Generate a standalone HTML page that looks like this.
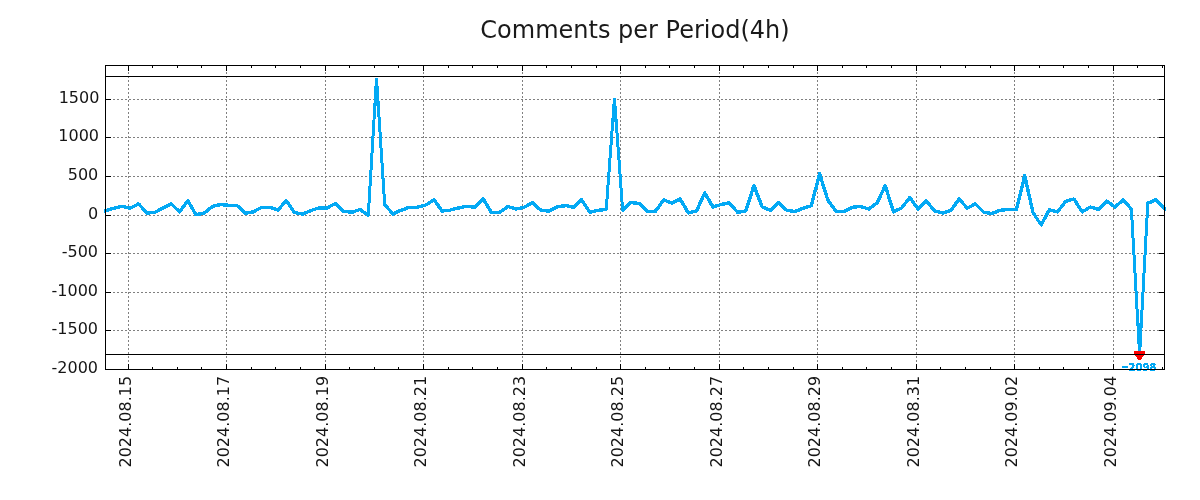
<!DOCTYPE html>
<html><head><meta charset="utf-8"><title>Comments per Period(4h)</title>
<style>
html,body{margin:0;padding:0;background:#fff;}
body{width:1200px;height:500px;overflow:hidden;}
svg{display:block;will-change:transform;font-family:"DejaVu Sans","Liberation Sans",sans-serif;}
.tl{font-size:16px;fill:#151515;}
</style></head><body>
<svg width="1200" height="500" viewBox="0 0 1200 500">
<rect x="0" y="0" width="1200" height="500" fill="#ffffff"/>

<g stroke="#808080" stroke-width="1" stroke-dasharray="2,2" shape-rendering="crispEdges" fill="none">
<line x1="128.5" y1="370" x2="128.5" y2="65"/>
<line x1="226.5" y1="370" x2="226.5" y2="65"/>
<line x1="325.5" y1="370" x2="325.5" y2="65"/>
<line x1="423.5" y1="370" x2="423.5" y2="65"/>
<line x1="522.5" y1="370" x2="522.5" y2="65"/>
<line x1="620.5" y1="370" x2="620.5" y2="65"/>
<line x1="719.5" y1="370" x2="719.5" y2="65"/>
<line x1="817.5" y1="370" x2="817.5" y2="65"/>
<line x1="916.5" y1="370" x2="916.5" y2="65"/>
<line x1="1014.5" y1="370" x2="1014.5" y2="65"/>
<line x1="1113.5" y1="370" x2="1113.5" y2="65"/>
<line x1="105" y1="99.5" x2="1165" y2="99.5"/>
<line x1="105" y1="137.5" x2="1165" y2="137.5"/>
<line x1="105" y1="176.5" x2="1165" y2="176.5"/>
<line x1="105" y1="215.5" x2="1165" y2="215.5"/>
<line x1="105" y1="253.5" x2="1165" y2="253.5"/>
<line x1="105" y1="292.5" x2="1165" y2="292.5"/>
<line x1="105" y1="330.5" x2="1165" y2="330.5"/>
</g>
<clipPath id="c"><rect x="104" y="65" width="1062" height="305"/></clipPath>
<filter id="th" filterUnits="userSpaceOnUse" x="0" y="0" width="1200" height="500" color-interpolation-filters="sRGB"><feComponentTransfer><feFuncA type="discrete" tableValues="0 1 1"/></feComponentTransfer></filter>
<filter id="th5" filterUnits="userSpaceOnUse" x="0" y="0" width="1200" height="500" color-interpolation-filters="sRGB"><feComponentTransfer><feFuncA type="discrete" tableValues="0 1"/></feComponentTransfer></filter>
<g clip-path="url(#c)" fill="none" stroke="#03a9f4" stroke-linejoin="round" stroke-linecap="round">
<g filter="url(#th)" stroke-width="3.1">
<polyline points="97.49,212.60 105.70,210.50 113.91,208.25 122.11,206.20 130.32,208.20 138.52,203.75 146.73,213.10 154.93,212.25 163.14,207.90 171.34,203.75 179.55,211.90 187.75,200.60 195.96,214.75 204.17,212.90 212.37,206.60 220.58,204.40 228.78,205.40 236.99,205.40 245.19,213.30 253.40,211.90 261.60,207.25 269.81,207.25 278.02,210.00 286.22,200.60 294.43,212.50 302.63,214.00 310.84,210.60 319.04,207.90 327.25,207.90 335.45,203.50 343.66,211.25 351.87,212.25 360.07,209.40 368.28,215.25"/>
<polyline points="384.69,204.40 392.89,214.00 401.10,210.25 409.30,207.25 417.51,207.00 425.71,205.00 433.92,199.75 442.13,211.00 450.33,210.00 458.54,207.90 466.74,206.25 474.95,207.25 483.15,198.75 491.36,212.50 499.56,212.50 507.77,206.50 515.98,209.10 524.18,207.20 532.39,202.75 540.59,210.00 548.80,211.25 557.00,206.90 565.21,205.60 573.41,207.25 581.62,199.75 589.82,212.25 598.03,210.25 606.24,209.40"/>
<polyline points="622.65,210.25 630.85,202.50 639.06,203.50 647.26,211.25 655.47,211.25 663.67,199.90 671.88,203.10 680.09,199.00 688.29,212.90 696.50,211.00 704.70,192.90 712.91,206.90 721.11,204.40 729.32,202.75 737.52,212.25 745.73,211.00 753.93,185.60 762.14,206.90 770.35,210.25 778.55,202.75 786.76,210.25 794.96,211.50 803.17,208.30 811.37,205.60 819.58,173.60 827.78,200.00 835.99,211.25 844.20,211.25 852.40,207.25 860.61,206.50 868.81,209.10 877.02,203.10 885.22,185.60 893.43,211.90 901.63,207.90 909.84,197.50 918.04,209.10 926.25,200.60 934.46,211.00 942.66,213.10 950.87,210.60 959.07,199.00 967.28,208.10 975.48,203.75 983.69,212.25 991.89,213.50 1000.10,210.25 1008.31,209.40 1016.51,209.40 1024.72,175.60 1032.92,212.50 1041.13,225.00 1049.33,209.75 1057.54,211.90 1065.74,201.25 1073.95,199.00 1082.15,211.90 1090.36,207.00 1098.57,209.40 1106.77,201.00 1114.98,207.00 1123.18,199.80 1131.39,209.10"/>
<polyline points="1147.80,203.25 1156.00,199.80 1164.21,208.20 1172.42,214.00"/>
</g><g filter="url(#th5)" stroke-width="3" stroke-linejoin="bevel">
<polyline points="368.28,215.25 376.48,78.00 384.69,204.40"/>
<polyline points="606.24,209.40 614.44,98.00 622.65,210.25"/>
<polyline points="1131.39,209.10 1139.59,354.50 1147.80,203.25"/>
</g></g>
<g fill="#ff0000" shape-rendering="crispEdges"><rect x="1134" y="351" width="11" height="4"/><rect x="1135" y="355" width="9" height="1"/><rect x="1136" y="356" width="7" height="1"/><rect x="1137" y="357" width="5" height="2"/><rect x="1138" y="359" width="3" height="1"/></g>
<g stroke="#000" stroke-width="1" shape-rendering="crispEdges">
<line x1="105" y1="76.5" x2="1165" y2="76.5"/>
<line x1="105" y1="354.5" x2="1165" y2="354.5"/>
</g>
<g stroke="#000" stroke-width="1" shape-rendering="crispEdges">
<line x1="128.5" y1="369" x2="128.5" y2="364"/>
<line x1="128.5" y1="66" x2="128.5" y2="71"/>
<line x1="226.5" y1="369" x2="226.5" y2="364"/>
<line x1="226.5" y1="66" x2="226.5" y2="71"/>
<line x1="325.5" y1="369" x2="325.5" y2="364"/>
<line x1="325.5" y1="66" x2="325.5" y2="71"/>
<line x1="423.5" y1="369" x2="423.5" y2="364"/>
<line x1="423.5" y1="66" x2="423.5" y2="71"/>
<line x1="522.5" y1="369" x2="522.5" y2="364"/>
<line x1="522.5" y1="66" x2="522.5" y2="71"/>
<line x1="620.5" y1="369" x2="620.5" y2="364"/>
<line x1="620.5" y1="66" x2="620.5" y2="71"/>
<line x1="719.5" y1="369" x2="719.5" y2="364"/>
<line x1="719.5" y1="66" x2="719.5" y2="71"/>
<line x1="817.5" y1="369" x2="817.5" y2="364"/>
<line x1="817.5" y1="66" x2="817.5" y2="71"/>
<line x1="916.5" y1="369" x2="916.5" y2="364"/>
<line x1="916.5" y1="66" x2="916.5" y2="71"/>
<line x1="1014.5" y1="369" x2="1014.5" y2="364"/>
<line x1="1014.5" y1="66" x2="1014.5" y2="71"/>
<line x1="1113.5" y1="369" x2="1113.5" y2="364"/>
<line x1="1113.5" y1="66" x2="1113.5" y2="71"/>
<line x1="152.5" y1="369" x2="152.5" y2="367"/>
<line x1="152.5" y1="66" x2="152.5" y2="68"/>
<line x1="177.5" y1="369" x2="177.5" y2="367"/>
<line x1="177.5" y1="66" x2="177.5" y2="68"/>
<line x1="201.5" y1="369" x2="201.5" y2="367"/>
<line x1="201.5" y1="66" x2="201.5" y2="68"/>
<line x1="251.5" y1="369" x2="251.5" y2="367"/>
<line x1="251.5" y1="66" x2="251.5" y2="68"/>
<line x1="275.5" y1="369" x2="275.5" y2="367"/>
<line x1="275.5" y1="66" x2="275.5" y2="68"/>
<line x1="300.5" y1="369" x2="300.5" y2="367"/>
<line x1="300.5" y1="66" x2="300.5" y2="68"/>
<line x1="349.5" y1="369" x2="349.5" y2="367"/>
<line x1="349.5" y1="66" x2="349.5" y2="68"/>
<line x1="374.5" y1="369" x2="374.5" y2="367"/>
<line x1="374.5" y1="66" x2="374.5" y2="68"/>
<line x1="398.5" y1="369" x2="398.5" y2="367"/>
<line x1="398.5" y1="66" x2="398.5" y2="68"/>
<line x1="448.5" y1="369" x2="448.5" y2="367"/>
<line x1="448.5" y1="66" x2="448.5" y2="68"/>
<line x1="472.5" y1="369" x2="472.5" y2="367"/>
<line x1="472.5" y1="66" x2="472.5" y2="68"/>
<line x1="497.5" y1="369" x2="497.5" y2="367"/>
<line x1="497.5" y1="66" x2="497.5" y2="68"/>
<line x1="546.5" y1="369" x2="546.5" y2="367"/>
<line x1="546.5" y1="66" x2="546.5" y2="68"/>
<line x1="571.5" y1="369" x2="571.5" y2="367"/>
<line x1="571.5" y1="66" x2="571.5" y2="68"/>
<line x1="596.5" y1="369" x2="596.5" y2="367"/>
<line x1="596.5" y1="66" x2="596.5" y2="68"/>
<line x1="645.5" y1="369" x2="645.5" y2="367"/>
<line x1="645.5" y1="66" x2="645.5" y2="68"/>
<line x1="669.5" y1="369" x2="669.5" y2="367"/>
<line x1="669.5" y1="66" x2="669.5" y2="68"/>
<line x1="694.5" y1="369" x2="694.5" y2="367"/>
<line x1="694.5" y1="66" x2="694.5" y2="68"/>
<line x1="743.5" y1="369" x2="743.5" y2="367"/>
<line x1="743.5" y1="66" x2="743.5" y2="68"/>
<line x1="768.5" y1="369" x2="768.5" y2="367"/>
<line x1="768.5" y1="66" x2="768.5" y2="68"/>
<line x1="793.5" y1="369" x2="793.5" y2="367"/>
<line x1="793.5" y1="66" x2="793.5" y2="68"/>
<line x1="842.5" y1="369" x2="842.5" y2="367"/>
<line x1="842.5" y1="66" x2="842.5" y2="68"/>
<line x1="866.5" y1="369" x2="866.5" y2="367"/>
<line x1="866.5" y1="66" x2="866.5" y2="68"/>
<line x1="891.5" y1="369" x2="891.5" y2="367"/>
<line x1="891.5" y1="66" x2="891.5" y2="68"/>
<line x1="940.5" y1="369" x2="940.5" y2="367"/>
<line x1="940.5" y1="66" x2="940.5" y2="68"/>
<line x1="965.5" y1="369" x2="965.5" y2="367"/>
<line x1="965.5" y1="66" x2="965.5" y2="68"/>
<line x1="990.5" y1="369" x2="990.5" y2="367"/>
<line x1="990.5" y1="66" x2="990.5" y2="68"/>
<line x1="1039.5" y1="369" x2="1039.5" y2="367"/>
<line x1="1039.5" y1="66" x2="1039.5" y2="68"/>
<line x1="1063.5" y1="369" x2="1063.5" y2="367"/>
<line x1="1063.5" y1="66" x2="1063.5" y2="68"/>
<line x1="1088.5" y1="369" x2="1088.5" y2="367"/>
<line x1="1088.5" y1="66" x2="1088.5" y2="68"/>
<line x1="1137.5" y1="369" x2="1137.5" y2="367"/>
<line x1="1137.5" y1="66" x2="1137.5" y2="68"/>
<line x1="1162.5" y1="369" x2="1162.5" y2="367"/>
<line x1="1162.5" y1="66" x2="1162.5" y2="68"/>
<line x1="106" y1="99.5" x2="111" y2="99.5"/>
<line x1="1164" y1="99.5" x2="1159" y2="99.5"/>
<line x1="106" y1="137.5" x2="111" y2="137.5"/>
<line x1="1164" y1="137.5" x2="1159" y2="137.5"/>
<line x1="106" y1="176.5" x2="111" y2="176.5"/>
<line x1="1164" y1="176.5" x2="1159" y2="176.5"/>
<line x1="106" y1="215.5" x2="111" y2="215.5"/>
<line x1="1164" y1="215.5" x2="1159" y2="215.5"/>
<line x1="106" y1="253.5" x2="111" y2="253.5"/>
<line x1="1164" y1="253.5" x2="1159" y2="253.5"/>
<line x1="106" y1="292.5" x2="111" y2="292.5"/>
<line x1="1164" y1="292.5" x2="1159" y2="292.5"/>
<line x1="106" y1="330.5" x2="111" y2="330.5"/>
<line x1="1164" y1="330.5" x2="1159" y2="330.5"/>
</g>
<filter id="th3" filterUnits="userSpaceOnUse" x="1100" y="350" width="80" height="40" color-interpolation-filters="sRGB"><feComponentTransfer><feFuncA type="discrete" tableValues="0 1 1"/></feComponentTransfer></filter>
<text filter="url(#th3)" y="371" font-size="10px" font-weight="bold" fill="#03a9f4"><tspan x="1121.3" dy="-1.3" textLength="7.7" lengthAdjust="spacingAndGlyphs" stroke="#03a9f4" stroke-width="0.5">−</tspan><tspan x="1128.5" dy="1.3">2098</tspan></text>
<rect x="105.5" y="65.5" width="1059" height="304" fill="none" stroke="#000" stroke-width="1" shape-rendering="crispEdges"/>
<text class="tl" x="99.4" y="102.8" text-anchor="end">1500</text>
<text class="tl" x="99.0" y="140.8" text-anchor="end">1000</text>
<text class="tl" x="98.3" y="179.8" text-anchor="end">500</text>
<text class="tl" x="98.1" y="218.8" text-anchor="end">0</text>
<text class="tl" x="98.0" y="256.8" text-anchor="end">-500</text>
<text class="tl" x="98.0" y="295.8" text-anchor="end">-1000</text>
<text class="tl" x="98.0" y="333.8" text-anchor="end">-1500</text>
<text class="tl" x="98.0" y="372.8" text-anchor="end">-2000</text>
<text class="tl" transform="translate(131.0,375.9) rotate(-90)" text-anchor="end">2024.08.15</text>
<text class="tl" transform="translate(229.0,375.9) rotate(-90)" text-anchor="end">2024.08.17</text>
<text class="tl" transform="translate(328.0,375.9) rotate(-90)" text-anchor="end">2024.08.19</text>
<text class="tl" transform="translate(426.0,375.9) rotate(-90)" text-anchor="end">2024.08.21</text>
<text class="tl" transform="translate(525.0,375.9) rotate(-90)" text-anchor="end">2024.08.23</text>
<text class="tl" transform="translate(623.0,375.9) rotate(-90)" text-anchor="end">2024.08.25</text>
<text class="tl" transform="translate(722.0,375.9) rotate(-90)" text-anchor="end">2024.08.27</text>
<text class="tl" transform="translate(820.0,375.9) rotate(-90)" text-anchor="end">2024.08.29</text>
<text class="tl" transform="translate(919.0,375.9) rotate(-90)" text-anchor="end">2024.08.31</text>
<text class="tl" transform="translate(1017.0,375.9) rotate(-90)" text-anchor="end">2024.09.02</text>
<text class="tl" transform="translate(1116.0,375.9) rotate(-90)" text-anchor="end">2024.09.04</text>
<text x="635" y="37.75" text-anchor="middle" font-size="24px" fill="#1a1a1a">Comments per Period(4h)</text>
</svg></body></html>
